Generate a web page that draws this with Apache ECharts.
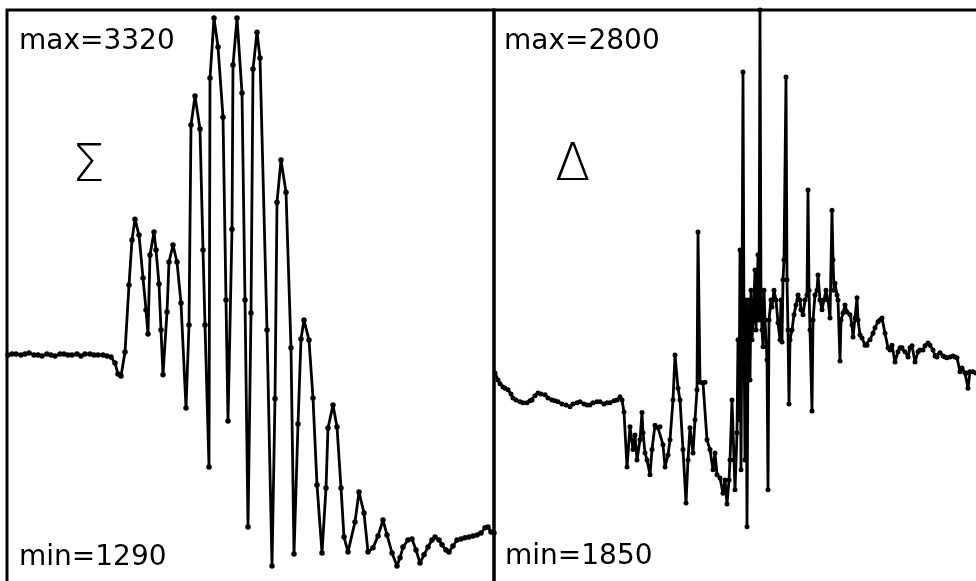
<!DOCTYPE html>
<html>
<head>
<meta charset="utf-8">
<script src="https://cdn.jsdelivr.net/npm/echarts@6/dist/echarts.min.js"></script>
<style>
  html, body { margin: 0; padding: 0; background: #fff; }
  #chart { width: 976px; height: 581px; }
</style>
</head>
<body>
<div id="chart"></div>
<script>
// Sum channel (Σ): sample time and amplitude
const sumTime = [1,5,9,14,18,22,27,31,35,40,44,48,53,57,61,65,70,74,78,83,87,91,96,100,104,108,111,114,118,122,125,128,132,136,139,141,143,147,149,152,154,156,160,162,166,170,174,179,182,184,188,193,196,198,202,203,207,211,216,219,221,225,226,230,235,238,241,244,246,250,253,260,265,268,270,274,279,284,287,291,294,297,302,306,310,315,319,321,326,330,334,337,341,348,352,357,361,366,371,376,380,385,390,393,396,401,405,409,413,417,421,425,428,432,435,439,442,446,450,454,458,462,466,470,474,478,481,484,487];
const sumValue = [2072,2075,2075,2072,2075,2079,2072,2072,2068,2075,2072,2068,2075,2075,2072,2072,2075,2068,2075,2075,2072,2072,2072,2068,2064,2042,2001,1994,2083,2331,2498,2575,2516,2357,2238,2149,2442,2527,2461,2335,2164,1998,2231,2416,2479,2416,2264,1875,2183,2924,3031,2909,2461,2183,1657,3098,3320,3213,2953,2275,1827,2538,3146,3320,3042,2275,1434,2227,3131,3268,3172,2164,1290,1909,2638,2794,2675,2098,1334,1816,2131,2201,2127,1912,1590,1338,1579,1801,1886,1805,1579,1397,1342,1453,1564,1486,1342,1357,1401,1460,1405,1338,1290,1320,1360,1386,1390,1349,1301,1331,1360,1386,1397,1386,1368,1349,1342,1364,1386,1390,1394,1397,1401,1405,1412,1431,1434,1416,1412];

// Difference channel (Δ): sample time and amplitude
const diffTime = [1,4,6,9,11,14,17,19,22,26,29,33,36,38,41,44,47,51,54,58,61,64,68,72,76,79,83,86,90,93,96,99,103,106,110,113,116,120,123,126,128,130,133,136,139,141,143,146,148,149,151,153,156,158,161,164,166,169,171,174,176,179,181,184,186,189,192,194,196,199,201,203,204,206,209,211,213,216,219,221,223,226,229,231,233,235,236,238,240,
  241,243,244,245,246,247,248,249,250,251,252,253,254,255,256,257,258,259,260,261,262,263,264,265,266,267,268,269,270,271,273,274,275,277,278,280,282,284,286,287,288,289,290,292,293,294,295,296,298,300,302,304,306,307,309,311,313,314,315,316,318,319,321,323,324,326,328,330,332,334,336,338,339,340,341,343,344,346,347,349,351,353,356,358,359,361,363,364,366,368,371,373,376,379,
  381,384,386,388,391,394,396,398,401,404,406,408,411,414,416,418,421,424,426,429,431,434,436,439,441,443,446,449,451,453,456,459,461,463,466,468,471,473,474,476,479,482];
const diffValue = [2133,2120,2113,2107,2105,2102,2094,2087,2083,2080,2078,2078,2082,2083,2091,2096,2094,2093,2087,2083,2082,2080,2076,2074,2071,2076,2078,2080,2076,2074,2074,2078,2080,2080,2076,2078,2078,2082,2083,2089,2083,2061,1960,2034,1992,2019,1973,2010,2060,2023,1986,1973,1946,1992,2037,2032,2034,2001,1960,1982,2010,2083,2166,2105,2083,1992,1894,1973,2032,1986,2047,2102,2392,2116,2115,2116,2010,1992,1955,1986,1946,1940,1912,1936,1892,1936,1973,2083,1973,
  1918,2023,2194,2047,2359,1955,2267,2686,2212,1973,2267,1850,2175,2267,2120,2285,2194,2227,2267,2322,2212,2267,2350,2230,2800,2267,2212,2181,2285,2230,2157,1918,2230,2267,2254,2285,2267,2225,2194,2267,2190,2304,2341,2677,2304,2212,2076,2194,2212,2240,2258,2276,2267,2249,2240,2267,2276,2469,2285,2212,2063,2230,2276,2285,2313,2267,2249,2267,2285,2267,2234,2432,2341,2285,2298,2276,2267,2155,2230,2243,2258,2245,2240,2221,2199,2234,2271,2230,2203,2197,2184,2184,2194,2206,
  2216,2227,2230,2234,2206,2179,2175,2184,2153,2172,2179,2179,2172,2162,2179,2183,2153,2172,2175,2175,2183,2188,2184,2175,2164,2162,2170,2164,2162,2161,2162,2164,2162,2161,2135,2142,2133,2133,2105,2135,2135,2133];

const sumMax = 3320, sumMin = 1290;
const diffMax = 2800, diffMin = 1850;

const pairs = (t, v) => t.map((x, i) => [x, v[i]]);

const chart = echarts.init(document.getElementById('chart'), null, { renderer: 'canvas' });

const hiddenAxis = {
  axisLine: { show: false }, axisTick: { show: false },
  axisLabel: { show: false }, splitLine: { show: false }
};
const frame = {
  show: true, borderColor: '#000', borderWidth: 3,
  backgroundColor: 'transparent', outerBoundsMode: 'none', containLabel: false
};
const labelFont = { fontFamily: 'DejaVu Sans', fontSize: 28, fill: '#000' };
const symbolFont = { fontFamily: 'DejaVu Sans', fontSize: 52, fontWeight: 200, fill: '#000' };

const traceStyle = (size) => ({
  type: 'line',
  symbol: 'circle', symbolSize: size, showAllSymbol: true,
  lineStyle: { color: '#000', width: 2.8 },
  itemStyle: { color: '#000' },
  clip: true
});

chart.setOption({
  animation: false,
  backgroundColor: '#fff',
  grid: [
    Object.assign({ left: 7, top: 10, width: 487, height: 574 }, frame),
    Object.assign({ left: 494, top: 10, width: 486, height: 574 }, frame)
  ],
  xAxis: [
    Object.assign({ type: 'value', gridIndex: 0, min: 0, max: 487 }, hiddenAxis),
    Object.assign({ type: 'value', gridIndex: 1, min: 0, max: 486 }, hiddenAxis)
  ],
  yAxis: [
    Object.assign({ type: 'value', gridIndex: 0, min: 1223, max: 3350 }, hiddenAxis),
    Object.assign({ type: 'value', gridIndex: 1, min: 1745, max: 2800 }, hiddenAxis)
  ],
  series: [
    Object.assign(traceStyle(5.5), { xAxisIndex: 0, yAxisIndex: 0, data: pairs(sumTime, sumValue) }),
    Object.assign(traceStyle(5), { xAxisIndex: 1, yAxisIndex: 1, data: pairs(diffTime, diffValue) })
  ],
  graphic: [
    { type: 'text', left: 19, top: 28, style: Object.assign({ text: 'max=' + sumMax }, labelFont) },
    { type: 'text', left: 19, top: 544, style: Object.assign({ text: 'min=' + sumMin }, labelFont) },
    { type: 'text', left: 504, top: 28, style: Object.assign({ text: 'max=' + diffMax }, labelFont) },
    { type: 'text', left: 505, top: 543, style: Object.assign({ text: 'min=' + diffMin }, labelFont) },
    { type: 'text', left: 72, top: 141, style: Object.assign({ text: 'Σ' }, symbolFont) },
    { type: 'text', left: 555, top: 140, style: Object.assign({ text: 'Δ' }, symbolFont) }
  ]
});
</script>
</body>
</html>
